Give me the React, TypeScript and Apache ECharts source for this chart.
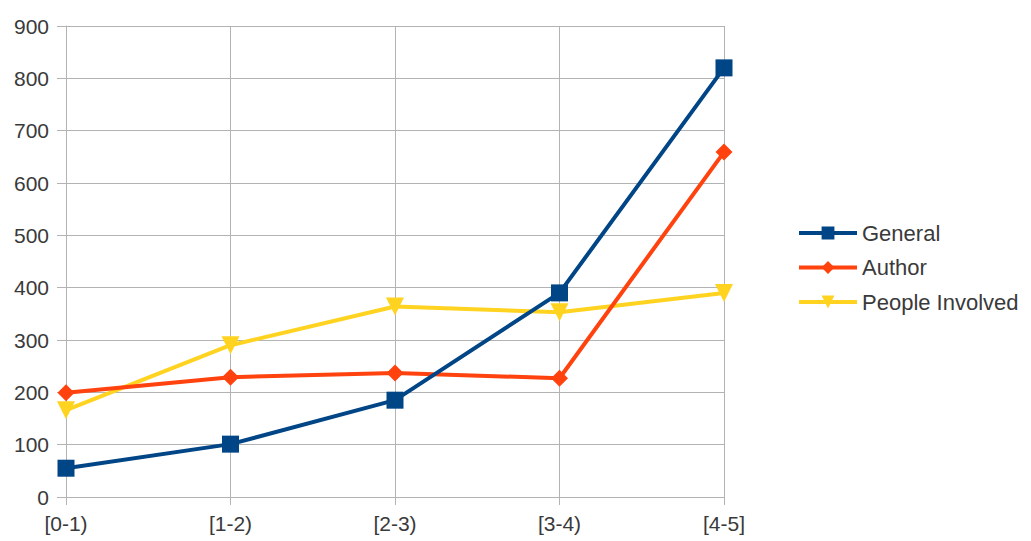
import React, { useEffect, useRef } from "react";
import * as echarts from "echarts";

const categories = ["[0-1)", "[1-2)", "[2-3)", "[3-4)", "[4-5]"];
const generalValues = [55, 101, 185, 390, 820];
const authorValues = [199, 229, 237, 227, 659];
const peopleValues = [166, 290, 364, 353, 390];
const yTicks = { min: 0, max: 900, interval: 100 };

export default function App() {
  const ref = useRef<HTMLDivElement>(null);
  useEffect(() => {
    if (!ref.current) return;
    const chart = echarts.init(ref.current, undefined, { renderer: "svg" });
    const font = "Liberation Sans, Arial, sans-serif";
    const axisColor = "#b3b3b3";
    const textColor = "#3a3a3a";
    chart.setOption({
      animation: false,
      backgroundColor: "#ffffff",
      textStyle: { fontFamily: font },
      grid: { left: 66, right: 307, top: 26, bottom: 44, containLabel: false },
      legend: {
        orient: "vertical",
        left: 797,
        top: 222,
        padding: 0,
        itemWidth: 58,
        itemHeight: 16,
        itemGap: 12.5,
        lineStyle: { width: 4 },
        textStyle: { fontSize: 22, color: textColor, fontFamily: font },
        data: ["General", "Author", "People Involved"],
      },
      xAxis: {
        type: "category",
        data: categories,
        boundaryGap: false,
        axisLine: { show: true, lineStyle: { color: axisColor, width: 1 } },
        axisTick: { show: true, length: 8, alignWithLabel: true, lineStyle: { color: axisColor } },
        axisLabel: { fontSize: 21, color: textColor, margin: 16, fontFamily: font },
        splitLine: { show: true, lineStyle: { color: axisColor, width: 1 } },
      },
      yAxis: {
        type: "value",
        min: yTicks.min,
        max: yTicks.max,
        interval: yTicks.interval,
        axisLine: { show: true, lineStyle: { color: axisColor, width: 1 } },
        axisTick: { show: true, length: 9, lineStyle: { color: axisColor } },
        axisLabel: { fontSize: 21, color: textColor, margin: 17, fontFamily: font, padding: [0, 0, 4, 0] },
        splitLine: { show: true, lineStyle: { color: axisColor, width: 1 } },
      },
      series: [
        {
          name: "General",
          type: "line",
          data: generalValues,
          color: "#004586",
          lineStyle: { width: 4 },
          symbol: "rect",
          symbolSize: 17,
          z: 3,
        },
        {
          name: "Author",
          type: "line",
          data: authorValues,
          color: "#ff420e",
          lineStyle: { width: 4 },
          symbol: "diamond",
          symbolSize: 17,
          z: 2,
        },
        {
          name: "People Involved",
          type: "line",
          data: peopleValues,
          color: "#ffd320",
          lineStyle: { width: 4 },
          symbol: "triangle",
          symbolRotate: 180,
          symbolSize: 18,
          z: 1,
        },
      ],
    });
    return () => chart.dispose();
  }, []);
  return <div ref={ref} style={{ width: 1031, height: 541, position: "absolute", left: 0, top: 0 }} />;
}
